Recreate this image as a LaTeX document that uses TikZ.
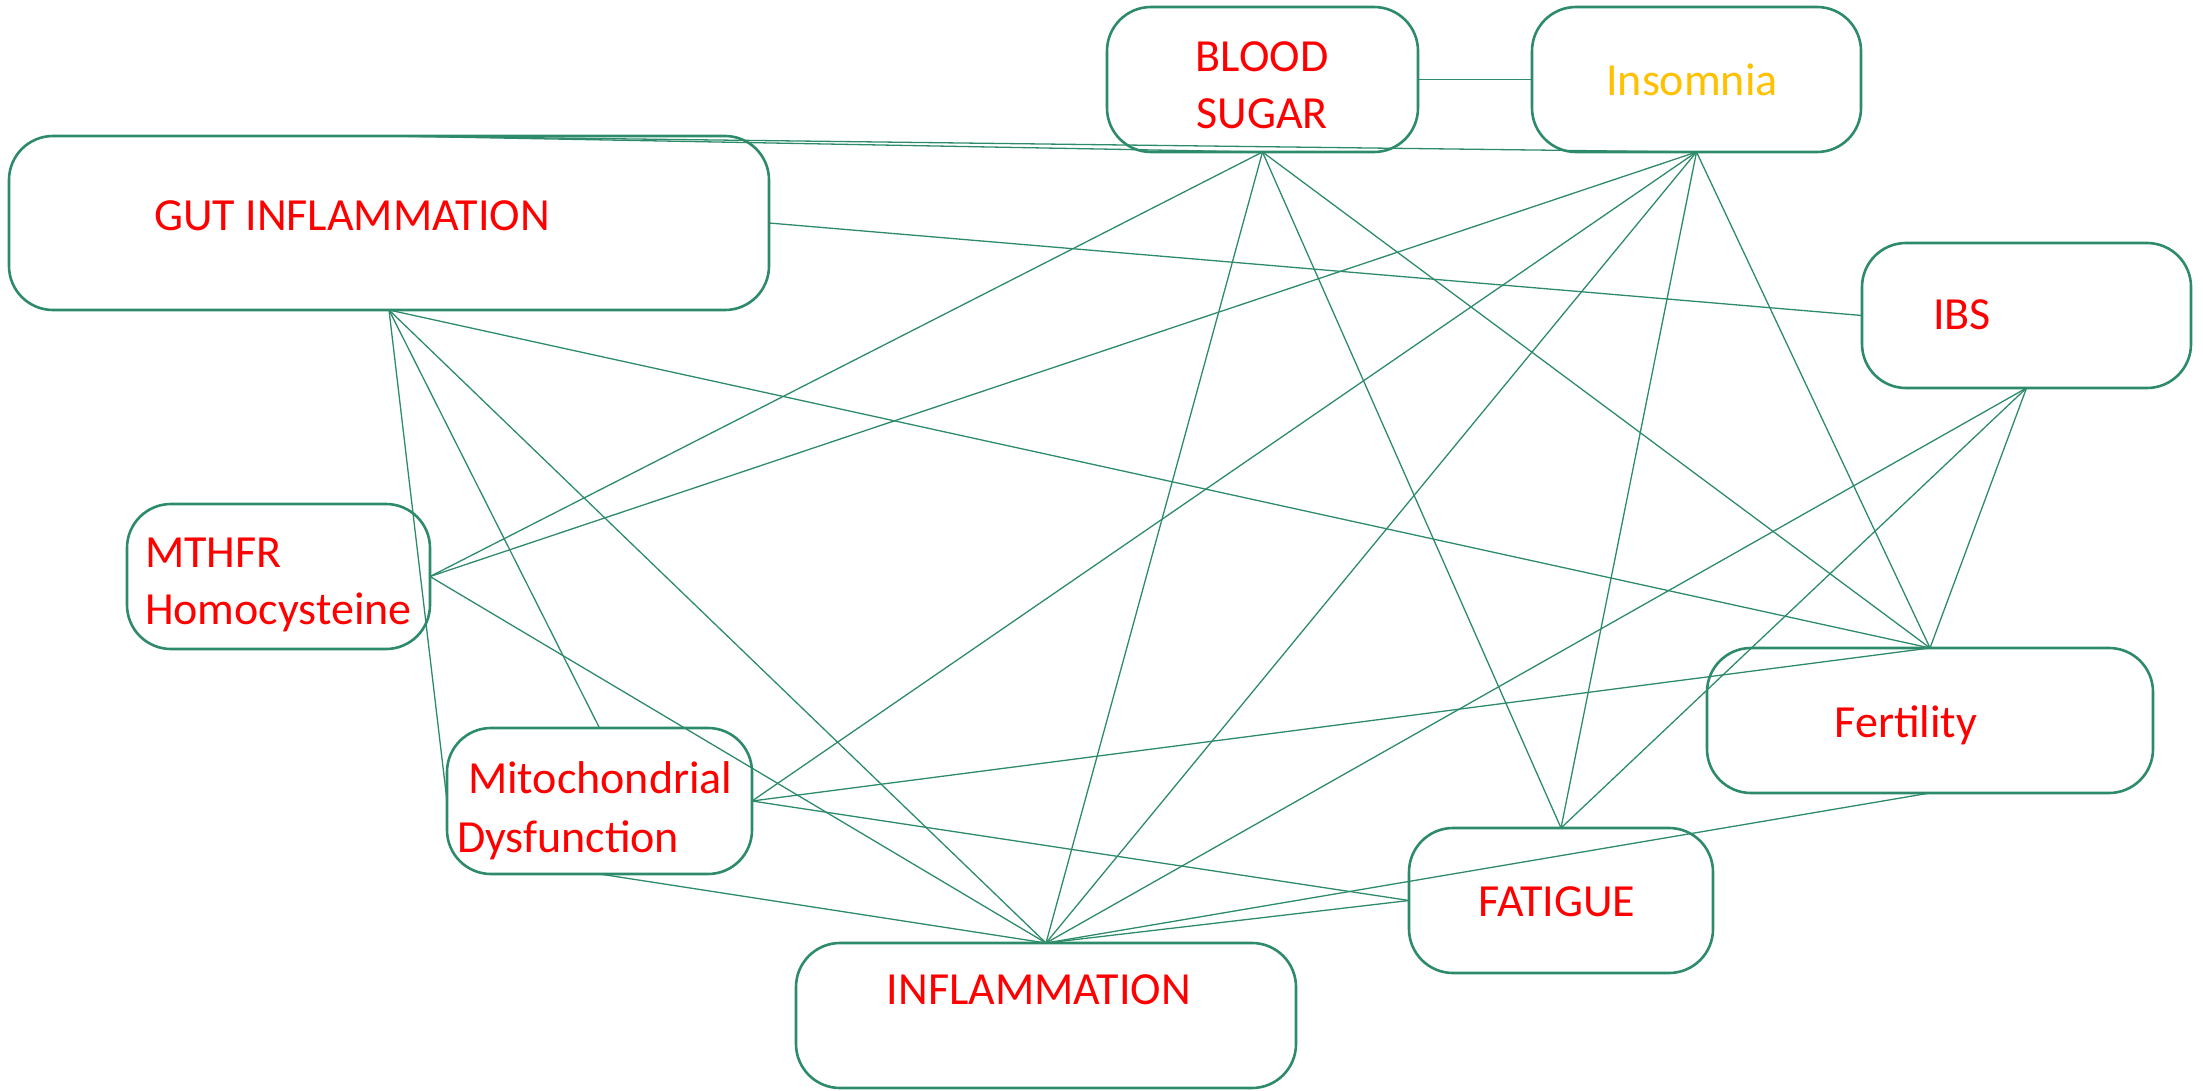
\documentclass[tikz,border=0pt]{standalone}
\usepackage{fontspec}
\setmainfont{Carlito}
\definecolor{edgegreen}{HTML}{2E8B6A}
\definecolor{txtred}{HTML}{FF0000}
\definecolor{txtgold}{HTML}{FFC000}
\tikzset{
  box/.style={draw=edgegreen, line width=2.6pt, rounded corners=44pt, inner sep=0pt, outer sep=0pt},
  link/.style={draw=edgegreen, line width=1.3pt},
  lbl/.style={inner sep=0pt, outer sep=0pt, font=\fontsize{46}{56}\selectfont, text=txtred, anchor=base},
  lblw/.style={lbl, anchor=base west},
}
\begin{document}
\begin{tikzpicture}[x=1pt,y=-1pt]
\useasboundingbox (0,0) rectangle (2203,1091);
% boxes
\node[box, minimum width=311pt, minimum height=145pt] (bs)   at (1262.5,79.5) {};
\node[box, minimum width=329pt, minimum height=145pt] (ins)  at (1696.5,79.5) {};
\node[box, minimum width=760pt, minimum height=174pt] (gut)  at (389,223) {};
\node[box, minimum width=329pt, minimum height=145pt] (ibs)  at (2026.5,315.5) {};
\node[box, minimum width=303pt, minimum height=145pt] (mth)  at (278.5,576.5) {};
\node[box, minimum width=305pt, minimum height=146pt] (mito) at (599.5,801) {};
\node[box, minimum width=446pt, minimum height=145pt] (fert) at (1930,720.5) {};
\node[box, minimum width=304pt, minimum height=145pt] (fat)  at (1561,900.5) {};
\node[box, minimum width=500pt, minimum height=145pt] (infl) at (1046,1015.5) {};
% labels
\node[lbl] (bst1) at (1262,72) {BLOOD};
\node[lbl] (bst2) at (1262,129) {SUGAR};
\node[lbl, text=txtgold] (inst) at (1692,96) {Insomnia};
\node[lbl] (gutt) at (352,231) {GUT INFLAMMATION};
\node[lbl] (ibst) at (1962,330) {IBS};
\node[lblw] (mtht1) at (145,567) {MTHFR};
\node[lblw] (mtht2) at (145,624) {Homocysteine};
\node[lblw] (mitot1) at (468,793) {Mitochondrial};
\node[lblw] (mitot2) at (457,852) {Dysfunction};
\node[lbl] (fertt) at (1906,737) {Fertility};
\node[lbl] (fatt) at (1557,916) {FATIGUE};
\node[lbl] (inflt) at (1039,1004) {INFLAMMATION};
% connectors
\draw[link] (bs.east) -- (ins.west);
\draw[link] (gut.north) -- (bs.south);
\draw[link] (gut.north) -- (ins.south);
\draw[link] (gut.east) -- (ibs.west);
\draw[link] (gut.south) -- (fert.north);
\draw[link] (gut.south) -- (infl.north);
\draw[link] (gut.south) -- (mito.north);
\draw[link] (gut.south) -- (mito.west);
\draw[link] (bs.south) -- (mth.east);
\draw[link] (bs.south) -- (infl.north);
\draw[link] (bs.south) -- (fat.north);
\draw[link] (bs.south) -- (fert.north);
\draw[link] (ins.south) -- (mth.east);
\draw[link] (ins.south) -- (mito.east);
\draw[link] (ins.south) -- (infl.north);
\draw[link] (ins.south) -- (fat.north);
\draw[link] (ins.south) -- (fert.north);
\draw[link] (ibs.south) -- (infl.north);
\draw[link] (ibs.south) -- (fat.north);
\draw[link] (ibs.south) -- (fert.north);
\draw[link] (mth.east) -- (infl.north);
\draw[link] (mito.east) -- (fert.north);
\draw[link] (mito.east) -- (fat.west);
\draw[link] (mito.south) -- (infl.north);
\draw[link] (fert.south) -- (infl.north);
\draw[link] (fat.west) -- (infl.north);
\end{tikzpicture}
\end{document}
